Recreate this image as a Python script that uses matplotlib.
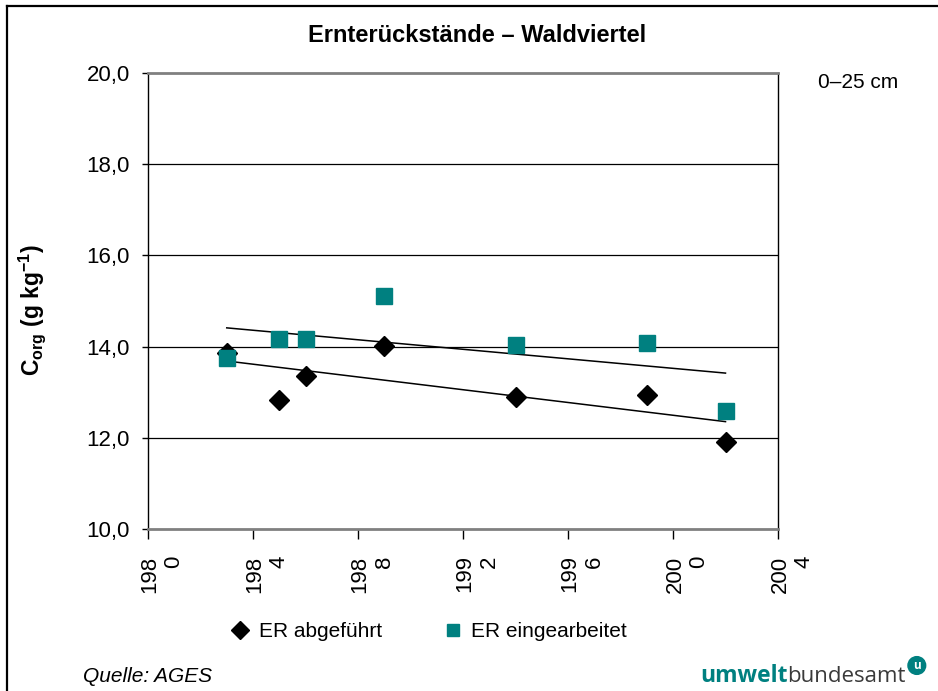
import numpy as np
import matplotlib
matplotlib.use("Agg")
import matplotlib.pyplot as plt
from matplotlib.lines import Line2D
from matplotlib.transforms import ScaledTranslation

plt.rcParams["font.family"] = ["Liberation Sans", "DejaVu Sans"]
plt.rcParams["mathtext.fontset"] = "custom"
plt.rcParams["mathtext.rm"] = "Liberation Sans"
plt.rcParams["mathtext.bf"] = "Liberation Sans:bold"

# ---- data ----
years = [1983, 1985, 1986, 1989, 1994, 1999, 2002]
er_abgefuehrt = [13.86, 12.83, 13.36, 14.01, 12.89, 12.94, 11.91]
er_eingearbeitet = [13.75, 14.17, 14.17, 15.11, 14.03, 14.08, 12.59]

x_ticks = [1980, 1984, 1988, 1992, 1996, 2000, 2004]
x_tick_labels = ["198\n0", "198\n4", "198\n8", "199\n2", "199\n6", "200\n0", "200\n4"]
y_ticks = [10, 12, 14, 16, 18, 20]
y_tick_labels = ["10,0", "12,0", "14,0", "16,0", "18,0", "20,0"]

teal = "#008080"

fig = plt.figure(figsize=(9.38, 6.91), dpi=100)
ax = fig.add_axes([148 / 938, 1 - 529 / 691, 630 / 938, 456 / 691])

ax.set_xlim(1980, 2004)
ax.set_ylim(10, 20)

# gridlines
for yv in y_ticks[1:-1]:
    ax.axhline(yv, color="black", lw=0.9, zorder=1)

# data points
ax.plot(years, er_abgefuehrt, linestyle="none", marker="D", color="black",
        markersize=10.5, label="ER abgeführt", zorder=3)
ax.plot(years, er_eingearbeitet, linestyle="none", marker="s", color=teal,
        markersize=11, label="ER eingearbeitet", zorder=3)

# linear trends
xs = np.array([years[0], years[-1]])
for series in (er_abgefuehrt, er_eingearbeitet):
    k, d = np.polyfit(years, series, 1)
    ax.plot(xs, k * xs + d, color="black", lw=1.1, zorder=2)

# spines
for s in ("top", "bottom"):
    ax.spines[s].set_color("#808080")
    ax.spines[s].set_linewidth(2)
for s in ("left", "right"):
    ax.spines[s].set_color("black")
    ax.spines[s].set_linewidth(1)

ax.set_yticks(y_ticks)
ax.set_yticklabels(y_tick_labels, fontsize=16)
ax.set_xticks(x_ticks)
ax.set_xticklabels(x_tick_labels, fontsize=16, rotation=90, multialignment="right",
                   va="top", ha="center", linespacing=1.2)
ax.tick_params(axis="y", direction="out", length=4.5, width=1, pad=8.5)
ax.tick_params(axis="x", direction="out", length=7, width=1, pad=12)
shift = ScaledTranslation(14 / 100, 0, fig.dpi_scale_trans)
for lbl in ax.get_xticklabels():
    lbl.set_transform(lbl.get_transform() + shift)

ax.set_ylabel(r"$\mathbf{C_{org}}$ (g kg$^{\mathbf{-1}}$)", fontsize=16.5,
              fontweight="bold")
ax.yaxis.set_label_coords(-0.158, 0.48)

fig.text(477 / 938, 1 - 35 / 691, "Ernterückstände – Waldviertel", ha="center",
         va="center", fontsize=17, fontweight="bold")
fig.text(858 / 938, 1 - 82 / 691, "0–25 cm", ha="center", va="center", fontsize=15)
fig.text(83 / 938, 1 - 676 / 691, "Quelle: AGES", ha="left", va="center",
         fontsize=15, style="italic")

ax.legend(loc="center", bbox_to_anchor=(0.445, -0.225), ncol=2, frameon=False,
          fontsize=15, handletextpad=0.4, columnspacing=2.9, handlelength=1.0,
          markerscale=0.85)

# logo text
t1 = fig.text(700 / 938, 1 - 676 / 691, "umwelt", ha="left", va="center",
              fontsize=16.5, fontweight="bold", color=teal, family="Open Sans")
t2 = ax.annotate("bundesamt", xycoords=t1, xy=(1, 0.5), va="center", ha="left",
                 fontsize=16, color="#3a3a3a", family="Open Sans",
                 annotation_clip=False)
ax.annotate("u", xycoords=t2, xy=(1.0, 1.0), xytext=(5, 0),
            textcoords="offset points", va="center", ha="left",
            fontsize=8.5, fontweight="bold", color="white", family="Open Sans",
            bbox=dict(boxstyle="circle,pad=0.2", fc=teal, ec=teal),
            annotation_clip=False)

# outer frame (left and top)
fig.add_artist(Line2D([7 / 938, 7 / 938], [0, 1 - 6 / 691], color="black", lw=1.6))
fig.add_artist(Line2D([7 / 938, 1], [1 - 6 / 691, 1 - 6 / 691], color="black", lw=1.6))

fig.savefig("out.png", dpi=100)
